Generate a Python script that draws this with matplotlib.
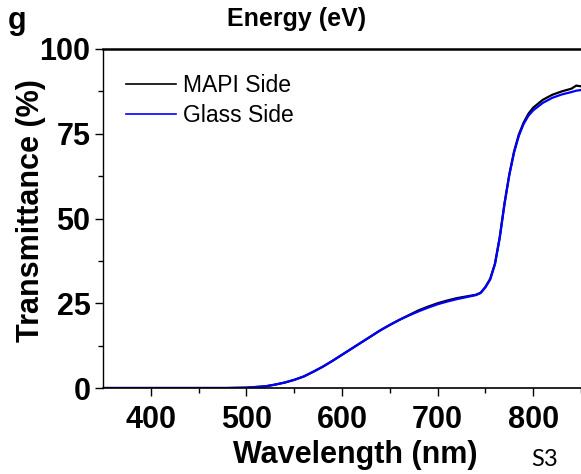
import matplotlib
matplotlib.use("Agg")
import matplotlib.pyplot as plt

wavelength = [350, 400, 450, 480, 500, 510, 520, 530, 540, 550, 560, 570, 580, 590,
              600, 610, 620, 630, 640, 650, 660, 670, 680, 690, 700, 710, 720, 730,
              740, 745, 750, 755, 760, 765, 770, 775, 780, 785, 790, 795, 800, 810,
              820, 830, 840, 845, 850]
mapi_side = [0, 0, 0, 0, 0.1, 0.3, 0.5, 1.0, 1.6, 2.4, 3.4, 4.8, 6.3, 8.0,
             9.8, 11.6, 13.4, 15.2, 17.0, 18.6, 20.1, 21.5, 22.9, 24.0, 25.0, 25.8, 26.5, 27.0,
             27.5, 28.1, 29.8, 32.2, 36.7, 44.5, 54.5, 63.0, 69.8, 74.8, 78.3, 80.9, 82.7, 85.0,
             86.5, 87.5, 88.3, 89.2, 89.0]
glass_side = [0, 0, 0, 0, 0.1, 0.3, 0.5, 1.0, 1.6, 2.4, 3.4, 4.8, 6.3, 8.0,
              9.8, 11.6, 13.4, 15.2, 17.0, 18.6, 20.1, 21.4, 22.6, 23.7, 24.7, 25.5, 26.2, 26.8,
              27.4, 28.0, 29.7, 32.0, 36.5, 44.3, 54.3, 62.8, 69.5, 74.4, 77.9, 80.3, 81.9, 84.1,
              85.6, 86.6, 87.3, 87.7, 87.9]

x_ticks = [400, 500, 600, 700, 800]
y_ticks = [0, 25, 50, 75, 100]

W, H = 581, 474
fig = plt.figure(figsize=(W / 100, H / 100), dpi=100)
ax = fig.add_axes([103 / W, 86 / H, 478 / W, 339 / H])

ax.plot(wavelength, mapi_side, color="black", lw=1.6, label="MAPI Side")
ax.plot(wavelength, glass_side, color="#0000ff", lw=1.6, label="Glass Side")

ax.set_xlim(350, 850)
ax.set_ylim(0, 100)
ax.set_xticks(x_ticks)
ax.set_yticks(y_ticks)
ax.set_xticks([450, 550, 650, 750, 850], minor=True)
ax.set_yticks([12.5, 37.5, 62.5, 87.5], minor=True)

bold = dict(family="Liberation Sans", weight="bold")
for lab in ax.get_xticklabels() + ax.get_yticklabels():
    lab.set_fontfamily("Liberation Sans")
    lab.set_fontweight("bold")
    lab.set_fontsize(22)

ax.tick_params(axis="both", which="major", direction="out", length=6, width=1.0, color="black")
ax.tick_params(axis="both", which="minor", direction="out", length=3.5, width=1.0)
ax.tick_params(axis="x", which="major", pad=6)
ax.tick_params(axis="y", which="major", pad=3)
ax.tick_params(top=False, right=False, which="both")

ax.spines["right"].set_visible(False)
ax.spines["top"].set_linewidth(1.8)
ax.spines["left"].set_linewidth(1.0)
ax.spines["bottom"].set_linewidth(1.2)

leg = ax.legend(loc="upper left", bbox_to_anchor=((126 - 103) / 478, (388 - 74) / 339),
                frameon=False, borderpad=0, borderaxespad=0, handlelength=2.2,
                handletextpad=0.3, labelspacing=0.3,
                prop=dict(family="Liberation Sans", size=16.5))
for line in leg.get_lines():
    line.set_linewidth(1.2)

fig.text(355 / W, 1 - 463 / H, "Wavelength (nm)", ha="center", va="baseline", fontsize=22, **bold)
fig.text(31 / W, 1 - 211 / H, "Transmittance (%)", ha="center", va="center", rotation=90,
         fontsize=22, **bold)
fig.text(297 / W, 1 - 19 / H, "Energy (eV)", ha="center", va="center", fontsize=18, **bold)
fig.text(8 / W, 1 - 29 / H, "g", ha="left", va="baseline", fontsize=22, **bold)
fig.text(545 / W, 1 - 460 / H, "S3", ha="center", va="center", fontsize=17, family="Lato")

fig.savefig("out.png", dpi=100)
